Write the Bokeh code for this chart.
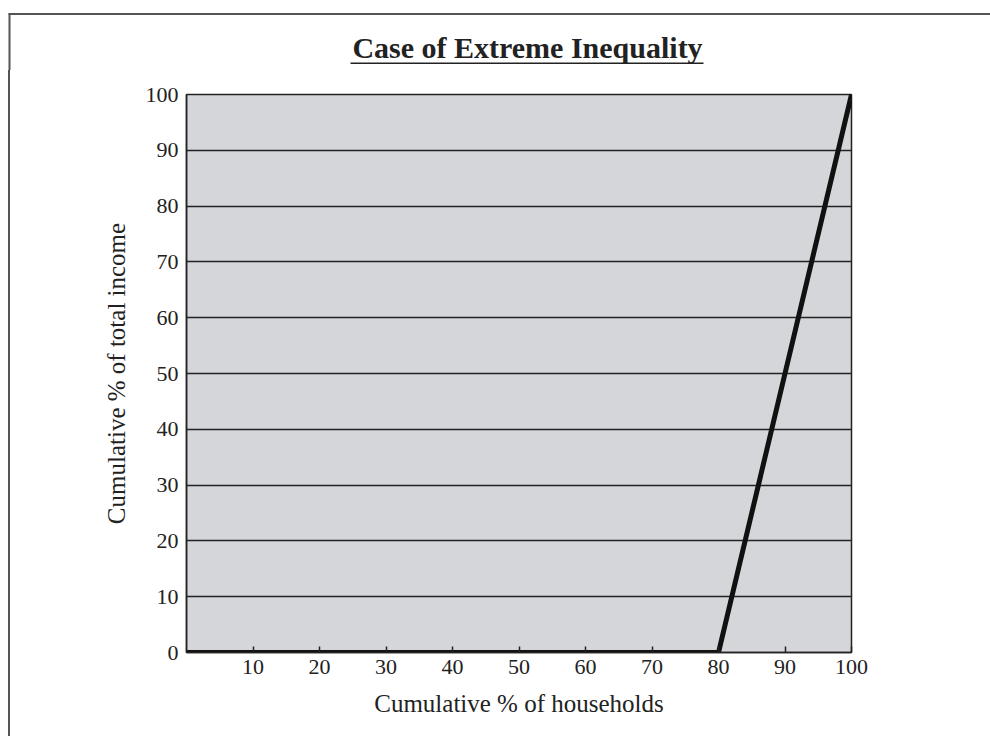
from bokeh.plotting import figure
from bokeh.models import FixedTicker, Range1d, Div
from bokeh.layouts import column, row
from bokeh.core.properties import value
from bokeh.embed import file_html
from bokeh.resources import INLINE

# Data
households_pct = [0, 80, 100]
income_pct = [0, 0, 100]
x_ticks = [10, 20, 30, 40, 50, 60, 70, 80, 90, 100]
y_ticks = [0, 10, 20, 30, 40, 50, 60, 70, 80, 90, 100]
title_text = "Case of Extreme Inequality"
x_label = "Cumulative % of households"
y_label = "Cumulative % of total income"

SERIF = "Liberation Serif"
DARK = "#222222"
PAGE_LINE = "#555555"
TOP_H = 70
MAIN_H = 736 - TOP_H

# ---- title strip (pixel coordinates, y grows downward) ----
top = figure(width=990, height=TOP_H, x_range=Range1d(0, 990), y_range=Range1d(TOP_H, 0),
             x_axis_type=None, y_axis_type=None,
             output_backend="svg", toolbar_location=None,
             min_border=0, background_fill_color="white", border_fill_color="white")
top.outline_line_color = None
top.grid.grid_line_color = None
top.text(x=[527], y=[47], text=[title_text], text_align="center",
         text_baseline="middle", text_font=value(SERIF),
         text_font_size="30px", text_font_style="bold", text_color=DARK)
top.segment(x0=[350], y0=[62.7], x1=[703], y1=[62.7], line_color=DARK, line_width=1.6)
top.segment(x0=[8], y0=[13.5], x1=[990], y1=[13.5], line_color=PAGE_LINE, line_width=2)
top.segment(x0=[9], y0=[13], x1=[9], y1=[TOP_H + 5], line_color=PAGE_LINE, line_width=2)

# ---- left page-frame edge ----
edge = Div(text="", width=2, height=MAIN_H, margin=(0, 0, 0, 8),
           styles={"background-color": PAGE_LINE})

# ---- main chart ----
p = figure(
    width=980, height=MAIN_H,
    frame_width=665, frame_height=558,
    min_border_left=176, min_border_right=139,
    min_border_top=MAIN_H - 558 - 84, min_border_bottom=84,
    x_range=Range1d(0, 100), y_range=Range1d(0, 100),
    output_backend="svg", toolbar_location=None,
    background_fill_color="#d5d6da",
    border_fill_color="white",
)

p.outline_line_color = DARK
p.outline_line_width = 1.5
p.outline_line_alpha = 1

p.xgrid.grid_line_color = None
p.ygrid.grid_line_color = DARK
p.ygrid.grid_line_width = 1.3
p.ygrid.ticker = FixedTicker(ticks=y_ticks)

p.xaxis.ticker = FixedTicker(ticks=x_ticks)
p.yaxis.ticker = FixedTicker(ticks=y_ticks)

for ax in (p.xaxis, p.yaxis):
    ax.axis_line_color = DARK
    ax.axis_line_width = 1.5
    ax.major_label_text_font = SERIF
    ax.major_label_text_font_size = "22px"
    ax.major_label_text_color = DARK
    ax.axis_label_text_font = SERIF
    ax.axis_label_text_font_size = "25px"
    ax.axis_label_text_font_style = "normal"
    ax.axis_label_text_color = DARK
    ax.minor_tick_line_color = None

p.xaxis.axis_label = x_label
p.yaxis.axis_label = y_label
p.xaxis.major_tick_in = 6
p.xaxis.major_tick_out = 0
p.xaxis.major_tick_line_color = DARK
p.xaxis.major_tick_line_width = 1.5
p.yaxis.major_tick_in = 0
p.yaxis.major_tick_out = 0
p.xaxis.major_label_standoff = 7
p.yaxis.major_label_standoff = 8
p.xaxis.axis_label_standoff = 13
p.yaxis.axis_label_standoff = 13

p.line(households_pct, income_pct, line_color="#111111", line_width=5)

layout = column(top, row(edge, p, spacing=0), spacing=0)

open("out.html", "w").write(file_html(layout, INLINE))
